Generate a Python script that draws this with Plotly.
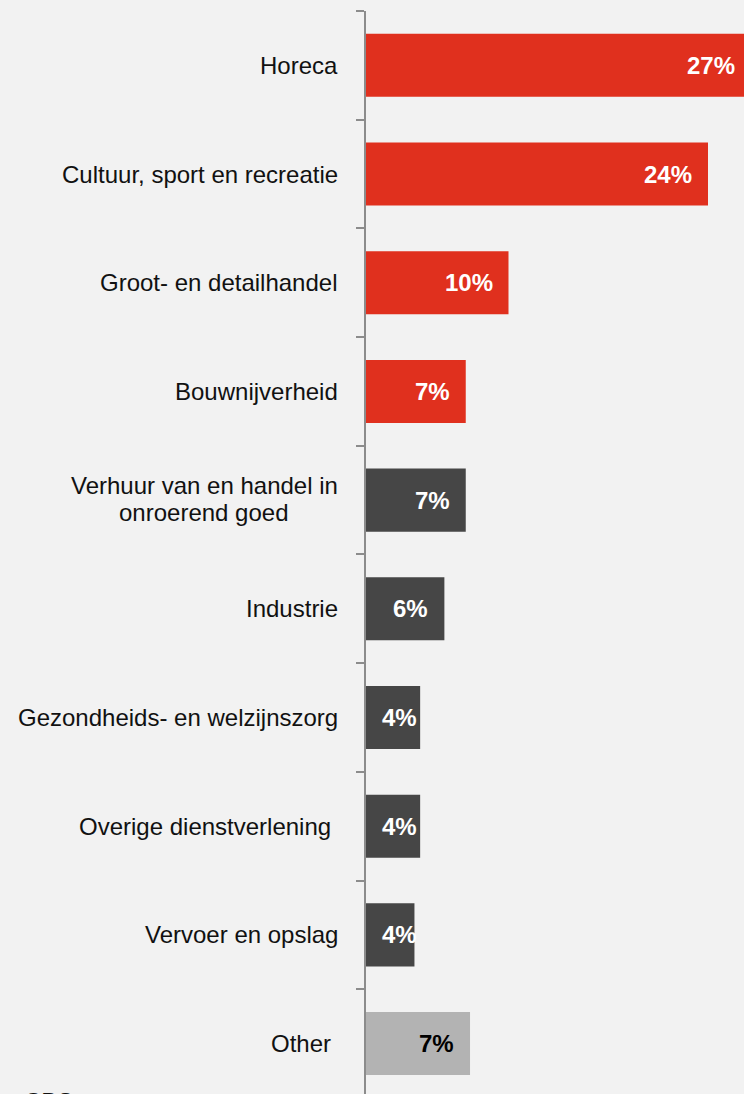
import numpy as np
import plotly.graph_objects as go

# ---------------- data ----------------
categories = [
    "Horeca",
    "Cultuur, sport en recreatie",
    "Groot- en detailhandel",
    "Bouwnijverheid",
    "Verhuur van en handel in<br>onroerend goed",
    "Industrie",
    "Gezondheids- en welzijnszorg",
    "Overige dienstverlening\u00a0",
    "Vervoer en opslag",
    "Other\u00a0",
]
values = [27.0, 24.0, 10.0, 7.0, 7.0, 5.5, 3.8, 3.8, 3.4, 7.3]
value_labels = ["27%", "24%", "10%", "7%", "7%", "6%", "4%", "4%", "4%", "7%"]
groups = ["top", "top", "top", "top", "mid", "mid", "mid", "mid", "mid", "rest"]
source_text = "CBS"

# ---------------- styles ----------------
group_colors = {"top": "#E0301E", "mid": "#464646", "rest": "#B3B3B3"}
label_colors = {"top": "#FFFFFF", "mid": "#FFFFFF", "rest": "#000000"}
FONT = "Liberation Sans, Arial, sans-serif"
W, H = 744, 1094
M_L, M_T = 366, 11
PX_PER_UNIT = 14.25
X_MAX = (W - M_L) / PX_PER_UNIT
CAT_PX = 108.69                 # pixel height of one category band
LABEL_PAD_PX = 16
FONT_SIZE = 24
CAT_LABEL_SHIFT = -26
LINE_SHIFTS = [15, -12]         # vertical shifts for two-line category labels
SECOND_LINE_INDENT = 50         # second line ends this much left of the first
TEXT_COLOR = "#111111"

bar_colors = [group_colors[g] for g in groups]
txt_colors = [label_colors[g] for g in groups]

# value label end position: inside end of bar, but kept clear of the axis
char_w = {"0": .556, "1": .556, "2": .556, "3": .556, "4": .556, "5": .556,
          "6": .556, "7": .556, "8": .556, "9": .556, "%": .889}
label_w_px = np.array([sum(char_w[c] for c in s) * FONT_SIZE for s in value_labels])
min_end = (LABEL_PAD_PX + label_w_px) / PX_PER_UNIT
label_x = np.maximum(np.array(values) - LABEL_PAD_PX / PX_PER_UNIT, min_end)

fig = go.Figure()
fig.add_trace(go.Bar(
    y=categories, x=values, orientation="h",
    marker=dict(color=bar_colors, line=dict(width=0)),
    width=0.58, hoverinfo="skip",
))

# value labels
for cat, lx, lab, col in zip(categories, label_x, value_labels, txt_colors):
    fig.add_annotation(
        x=lx, xref="x", xanchor="right", xshift=2,
        y=cat, yref="y", yanchor="middle",
        text=lab, showarrow=False,
        font=dict(family=FONT, size=FONT_SIZE, color=col, weight="bold"),
    )

# category labels
for cat in categories:
    lines = cat.split("<br>")
    if len(lines) == 1:
        fig.add_annotation(
            x=0, xref="paper", xanchor="right", xshift=CAT_LABEL_SHIFT,
            y=cat, yref="y", yanchor="middle",
            text=cat, showarrow=False,
            font=dict(family=FONT, size=FONT_SIZE, color=TEXT_COLOR),
        )
    else:
        for i, line in enumerate(lines):
            fig.add_annotation(
                x=0, xref="paper", xanchor="right",
                xshift=CAT_LABEL_SHIFT - (SECOND_LINE_INDENT if i > 0 else 0),
                y=cat, yref="y", yanchor="middle", yshift=LINE_SHIFTS[i],
                text=line, showarrow=False,
                font=dict(family=FONT, size=FONT_SIZE, color=TEXT_COLOR),
            )

fig.add_annotation(
    x=(22 - M_L) / (W - M_L), xref="paper", xanchor="left",
    y=0, yref="paper", yanchor="top", yshift=8,
    text=source_text, showarrow=False,
    font=dict(family=FONT, size=FONT_SIZE, color=TEXT_COLOR),
)

y_bottom = -0.5 + (H - M_T) / CAT_PX
fig.update_layout(
    width=W, height=H,
    margin=dict(l=M_L, r=0, t=M_T, b=0, pad=0),
    paper_bgcolor="#F2F2F2", plot_bgcolor="#F2F2F2",
    showlegend=False,
    xaxis=dict(range=[0, X_MAX], visible=False, fixedrange=True),
    yaxis=dict(
        type="category", categoryorder="array", categoryarray=categories,
        range=[y_bottom, -0.5],
        showline=True, linecolor="#8C8C8C", linewidth=2,
        ticks="outside", ticklen=8, tickwidth=2, tickcolor="#8C8C8C",
        tickson="boundaries", showticklabels=False, showgrid=False,
        zeroline=False, fixedrange=True,
    ),
)

fig.write_html(
    "out.html",
    config={"displayModeBar": False},
    post_script="document.body.style.margin='0';document.body.style.overflow='hidden';",
)
